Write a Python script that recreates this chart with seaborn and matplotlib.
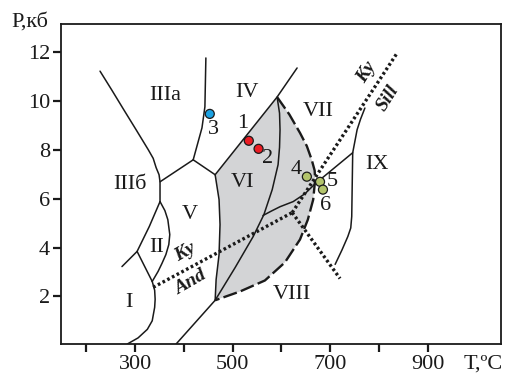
import matplotlib
matplotlib.use("Agg")
import matplotlib.pyplot as plt
import seaborn as sns
import numpy as np
import pandas as pd

# ---- data (T in °C, P in kbar) ----
line_a_T = [228, 252, 277, 302, 327, 337, 343, 349, 351, 351]
line_a_P = [11.22, 10.45, 9.63, 8.82, 8.0, 7.65, 7.27, 6.98, 6.69, 5.88]
line_b_T = [351, 361, 367, 371, 369, 363, 355, 347, 335]
line_b_P = [5.88, 5.51, 5.14, 4.53, 4.12, 3.71, 3.35, 3.02, 2.61]
line_c_T = [351, 329, 304, 273]
line_c_P = [5.88, 4.86, 3.84, 3.22]
line_d_T = [304, 335]
line_d_P = [3.84, 2.61]
line_e_T = [335, 340, 341, 340, 335, 325, 306, 284]
line_e_P = [2.61, 2.25, 1.88, 1.55, 1.00, 0.65, 0.30, 0.05]
line_f_T = [351, 419]
line_f_P = [6.69, 7.59]
line_g_T = [445, 443, 437, 419]
line_g_P = [11.76, 9.76, 8.9, 7.59]
line_h_T = [419, 464]
line_h_P = [7.59, 6.98]
line_i_T = [464, 591, 632]
line_i_P = [6.98, 10.16, 11.35]
line_j_T = [464, 472, 474, 472, 466, 464]
line_j_P = [6.98, 5.96, 4.94, 3.71, 2.69, 1.84]
line_k_T = [464, 384]
line_k_P = [1.84, 0.05]
line_m_T = [591, 596, 597, 596, 593, 581, 564, 542, 505, 464]
line_m_P = [10.16, 9.5, 8.82, 8.1, 7.39, 6.37, 5.35, 4.45, 3.18, 1.84]
line_n_T = [562, 580, 597, 624, 648, 669, 746]
line_n_P = [5.31, 5.50, 5.67, 5.88, 6.20, 6.61, 7.88]
line_o_T = [771, 762, 755, 746, 744, 742, 736, 724, 710]
line_o_P = [9.71, 9.25, 8.82, 7.88, 5.27, 4.80, 4.45, 3.90, 3.31]
# dashed boundary of field VI
dash_T = [591, 616, 638, 652, 662, 668, 669, 665, 654, 638, 607, 566, 515, 464]
dash_P = [10.16, 9.45, 8.69, 8.15, 7.59, 7.15, 6.78, 5.96, 5.14, 4.33, 3.39, 2.65, 2.20, 1.84]
# Al2SiO5 dotted lines
ky_and_T = [337, 622]
ky_and_P = [2.37, 5.43]
ky_sill_T = [622, 837]
ky_sill_P = [5.43, 11.96]
sill_and_T = [622, 720]
sill_and_P = [5.43, 2.73]

# samples
pt_labels = ["1", "2", "3", "4", "5", "6"]
pt_T = [533, 553, 453, 652, 679, 685]
pt_P = [8.37, 8.04, 9.47, 6.90, 6.69, 6.37]
pt_group = ["red", "red", "blue", "green", "green", "green"]
pt_lab_T = [521, 572, 460, 630, 705, 691]
pt_lab_P = [9.06, 7.63, 8.82, 7.18, 6.69, 5.72]

field_names = ["IIIa", "IV", "VII", "IX", "IIIб", "V", "VI", "II", "I", "VIII"]
field_T = [361, 529, 675, 796, 290, 413, 521, 345, 288, 622]
field_P = [10.24, 10.33, 9.55, 7.39, 6.57, 5.35, 6.65, 4.0, 1.76, 2.08]

xticks = [200, 300, 400, 500, 600, 700, 800, 900]
xtick_labels = ["", "300", "", "500", "", "700", "", "900"]
yticks = [2, 4, 6, 8, 10, 12]

# ---- plotting ----
sns.set_theme(style="white")
plt.rcParams["font.family"] = ["Liberation Serif", "DejaVu Serif"]

fig = plt.figure(figsize=(5.05, 3.74), dpi=100)
ax = fig.add_axes([61/505, 30/374, 440/505, 320/374])

# gray field VI
poly_T = line_i_T[:2] + dash_T[1:] + line_j_T[::-1][1:]
poly_P = line_i_P[:2] + dash_P[1:] + line_j_P[::-1][1:]
ax.fill(poly_T, poly_P, color="#d3d4d6", zorder=1, lw=0)

solid = [(line_a_T, line_a_P), (line_b_T, line_b_P), (line_c_T, line_c_P),
         (line_d_T, line_d_P), (line_e_T, line_e_P), (line_f_T, line_f_P),
         (line_g_T, line_g_P), (line_h_T, line_h_P), (line_i_T, line_i_P),
         (line_j_T, line_j_P), (line_k_T, line_k_P), (line_m_T, line_m_P),
         (line_n_T, line_n_P), (line_o_T, line_o_P)]
for T, P in solid:
    sns.lineplot(x=T, y=P, sort=False, estimator=None, ax=ax,
                 color="#1a1a1a", lw=1.1, zorder=3)
    ax.lines[-1].set_solid_joinstyle("round")

sns.lineplot(x=dash_T, y=dash_P, sort=False, estimator=None, ax=ax,
             color="#1a1a1a", lw=1.7, zorder=3)
ax.lines[-1].set_linestyle((0, (6, 1.8)))

for T, P in [(ky_and_T, ky_and_P), (ky_sill_T, ky_sill_P), (sill_and_T, sill_and_P)]:
    sns.lineplot(x=T, y=P, sort=False, estimator=None, ax=ax,
                 color="#1a1a1a", lw=2.4, zorder=4)
    ax.lines[-1].set_linestyle((0, (0.8, 0.8)))

pal = {"red": "#ec1c24", "blue": "#1ba1e2", "green": "#b3c46c"}
df = pd.DataFrame({"T": pt_T, "P": pt_P, "g": pt_group})
sns.scatterplot(data=df, x="T", y="P", hue="g", palette=pal, s=42,
                edgecolor="#1a1a1a", linewidth=0.9, legend=False, ax=ax, zorder=5)

for lab, T, P in zip(pt_labels, pt_lab_T, pt_lab_P):
    ax.text(T, P, lab, fontsize=16, ha="center", va="center", color="#1a1a1a", zorder=6)
for lab, T, P in zip(field_names, field_T, field_P):
    ax.text(T, P, lab, fontsize=16, ha="center", va="center", color="#1a1a1a", zorder=6)

bi = dict(fontsize=14, fontweight="bold", fontstyle="italic", ha="center",
          va="center", color="#1a1a1a", zorder=6)
ax.text(402, 3.80, "Ky", rotation=30, **bi)
ax.text(413, 2.57, "And", rotation=30, **bi)
ax.text(775, 11.18, "Ky", rotation=58, **bi)
ax.text(818, 10.10, "Sill", rotation=58, **bi)

ax.set_xlim(148, 1050)
ax.set_ylim(0.05, 13.15)
ax.set_xticks(xticks)
ax.set_xticklabels(xtick_labels)
ax.set_yticks(yticks)
ax.set_xlabel("")
ax.set_ylabel("")
ax.tick_params(axis="both", direction="out", length=6, width=1.6,
               labelsize=16, colors="#1a1a1a", pad=2, bottom=True, left=True)
for s in ax.spines.values():
    s.set_color("#1a1a1a")
    s.set_linewidth(1.3)

fig.text(30/505, 1 - 22/374, "P,кб", fontsize=16, ha="center", va="center", color="#1a1a1a")
fig.text(483/505, 1 - 364/374, "T,ºC", fontsize=16, ha="center", va="center", color="#1a1a1a")

fig.savefig("out.png", dpi=100)
